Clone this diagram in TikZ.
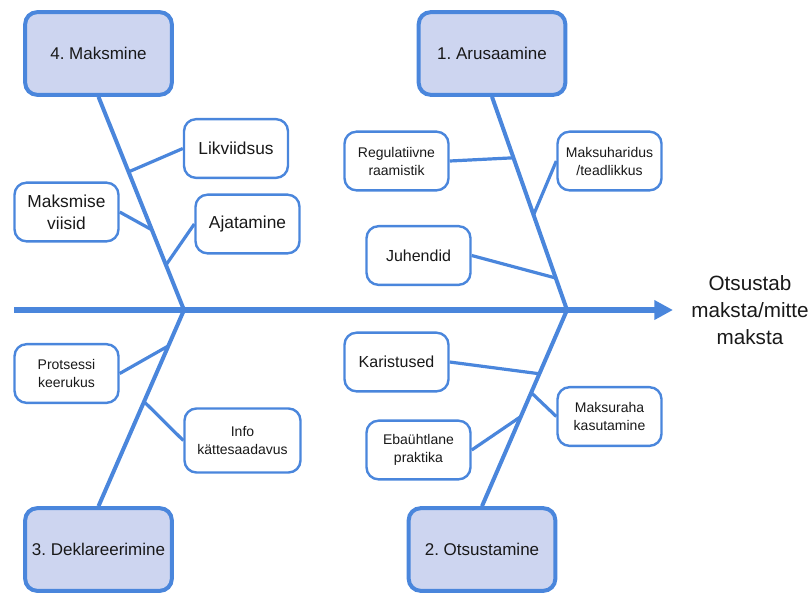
\documentclass[tikz,border=0pt]{standalone}
\usepackage{fontspec}
\setmainfont{Liberation Sans}
\usetikzlibrary{positioning, arrows.meta, calc}
\definecolor{bonecol}{RGB}{74,134,220}
\definecolor{headfill}{RGB}{205,213,240}
\frenchspacing

\begin{document}
\begin{tikzpicture}[x=0.75pt, y=-0.75pt,
  mainbox/.style={rectangle, draw=bonecol, line width=3pt, rounded corners=9pt, fill=headfill, text=black!90, minimum width=110pt, minimum height=62pt, font=\fontsize{12.75}{15}\selectfont},
  causebox/.style={rectangle, draw=bonecol, line width=1.8pt, rounded corners=9pt, fill=white, text=black!90, minimum width=78pt, minimum height=44pt, align=center, inner sep=2pt},
  bigtxt/.style={font=\fontsize{13}{16.3}\selectfont},
  midtxt/.style={font=\fontsize{12}{15}\selectfont},
  smalltxt/.style={font=\fontsize{10.5}{13.5}\selectfont},
  bone/.style={draw=bonecol, line width=3pt},
  twig/.style={draw=bonecol, line width=2.4pt}]

\useasboundingbox (0,0) rectangle (812,593);

% main categories
\node[mainbox] (m4) at (98.5, 53.5) {4. Maksmine};
\node[mainbox] (m1) at (492, 53.5) {1. Arusaamine};
\node[mainbox] (m3) at (98.5, 549.5) {3. Deklareerimine};
\node[mainbox] (m2) at (482, 549.5) {2. Otsustamine};

% spine
\coordinate (tail) at (14, 310);
\coordinate (head) at (673, 310);
\coordinate (jL) at (184, 310);
\coordinate (jR) at (567, 310);
\draw[bonecol, line width=4.5pt, -{Triangle[length=14pt, width=14pt]}] (tail) -- (head);
\node[text=black!90, font=\fontsize{15.5}{20}\selectfont, align=center] (effect) at (750, 310) {Otsustab\\maksta/mitte\\maksta};

\draw[bone] (m4.south) -- (jL);
\draw[bone] (m1.south) -- (jR);
\draw[bone] (m3.north) -- (jL);
\draw[bone] (m2.north) -- (jR);

% causes
\node[causebox, bigtxt] (lik) at (236, 148.5) {Likviidsus};
\node[causebox, bigtxt] (viis) at (66.5, 212) {Maksmise\\viisid};
\node[causebox, bigtxt] (aja) at (247.5, 224) {Ajatamine};
\node[causebox, smalltxt] (reg) at (396.5, 161) {Regulatiivne\\raamistik};
\node[causebox, smalltxt] (har) at (609.5, 161) {Maksuharidus\\/teadlikkus};
\node[causebox, midtxt] (juh) at (418.5, 255.5) {Juhendid};
\node[causebox, smalltxt] (prot) at (66.5, 373.5) {Protsessi\\keerukus};
\node[causebox, smalltxt, minimum width=87pt, minimum height=48pt] (info) at (242.5, 440.5) {Info\\kättesaadavus};
\node[causebox, midtxt] (kar) at (396.5, 362) {Karistused};
\node[causebox, smalltxt] (kas) at (609.5, 416.5) {Maksuraha\\kasutamine};
\node[causebox, smalltxt] (eba) at (418.5, 450) {Ebaühtlane\\praktika};

% points on the bones
\coordinate (p4a) at ($(m4.south)!0.352!(jL)$);
\coordinate (p4b) at ($(m4.south)!0.624!(jL)$);
\coordinate (p4c) at ($(m4.south)!0.789!(jL)$);
\coordinate (p1a) at ($(m1.south)!0.286!(jR)$);
\coordinate (p1b) at ($(m1.south)!0.554!(jR)$);
\coordinate (p1c) at ($(m1.south)!0.85!(jR)$);
\coordinate (p3a) at ($(jL)!0.183!(m3.north)$);
\coordinate (p3b) at ($(jL)!0.467!(m3.north)$);
\coordinate (p2a) at ($(jR)!0.325!(m2.north)$);
\coordinate (p2b) at ($(jR)!0.421!(m2.north)$);
\coordinate (p2c) at ($(jR)!0.543!(m2.north)$);

\draw[twig] (lik.west) -- (p4a);
\draw[twig] (viis.east) -- (p4b);
\draw[twig] (aja.west) -- (p4c);
\draw[twig] (reg.east) -- (p1a);
\draw[twig] (har.west) -- (p1b);
\draw[twig] (juh.east) -- (p1c);
\draw[twig] (prot.east) -- (p3a);
\draw[twig] (info.west) -- (p3b);
\draw[twig] (kar.east) -- (p2a);
\draw[twig] (kas.west) -- (p2b);
\draw[twig] (eba.east) -- (p2c);

\end{tikzpicture}
\end{document}
